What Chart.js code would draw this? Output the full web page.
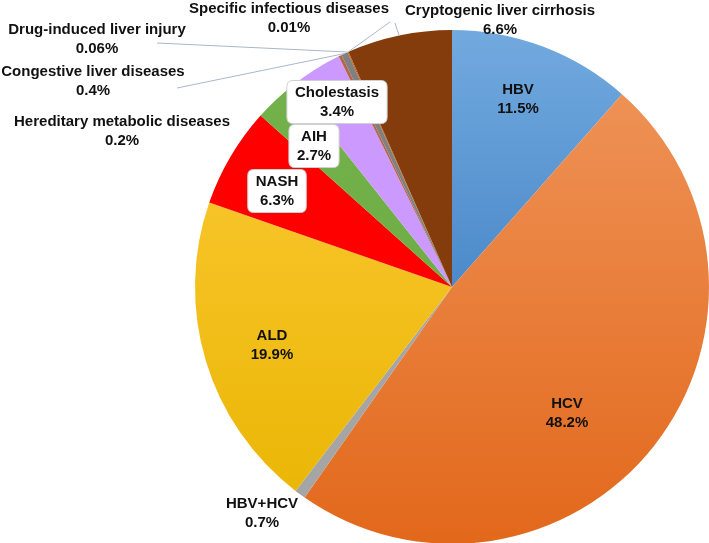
<!DOCTYPE html>
<html lang="en">
<head>
  <meta charset="UTF-8">
  <title>Liver cirrhosis etiology</title>
  <script src="https://cdn.jsdelivr.net/npm/chart.js"></script>
  <style>
    html, body {
      margin: 0;
      padding: 0;
      background: #ffffff;
      overflow: hidden;
    }

    #wrap {
      position: absolute;
      left: 0;
      top: 0;
      width: 720px;
      height: 560px;
    }
  </style>
</head>
<body>
  <div id="wrap">
    <canvas id="pie" width="720" height="560"></canvas>
  </div>

  <script>
    // categories in clockwise order starting at 12 o'clock
    const categories = [
      'HBV', 'HCV', 'HBV+HCV', 'ALD', 'NASH', 'AIH', 'Cholestasis',
      'Hereditary metabolic diseases', 'Congestive liver diseases',
      'Drug-induced liver injury', 'Specific infectious diseases',
      'Cryptogenic liver cirrhosis'
    ];
    const shares = [11.5, 48.2, 0.7, 19.9, 6.3, 2.7, 3.4, 0.2, 0.4, 0.06, 0.01, 6.6];

    // top / bottom colour of each slice's vertical gradient
    const topColors = ['#72aadf', '#f0975e', '#a5a5a5', '#ffcc3c', '#ff0000', '#74b24b',
                       '#cc99ff', '#b5654a', '#808080', '#c55a11', '#7f6000', '#843c0c'];
    const bottomColors = ['#2669b5', '#e2681b', '#a5a5a5', '#e8b400', '#ff0000', '#6aa843',
                          '#cc99ff', '#b5654a', '#808080', '#c55a11', '#7f6000', '#843c0c'];

    // where each label sits (text centre), optional leader start, optional box
    const labelSpots = [
      { x: 518, y: 99 },
      { x: 567, y: 413 },
      { x: 262, y: 513 },
      { x: 272, y: 345 },
      { x: 277, y: 191, box: true },
      { x: 314, y: 146, box: true },
      { x: 337, y: 102, box: true },
      { x: 122, y: 131 },
      { x: 93, y: 81, from: [177, 88] },
      { x: 97, y: 39, from: [157, 43] },
      { x: 289, y: 18, from: [390, 22] },
      { x: 500, y: 20, from: [395, 23] }
    ];

    const FONT = 'bold 15px "Liberation Sans", Arial, sans-serif';

    function sliceFill(context) {
      const i = context.dataIndex;
      const chart = context.chart;
      const area = chart.chartArea;
      if (!area || i === undefined) return topColors[i || 0];
      const g = chart.ctx.createLinearGradient(0, area.top, 0, area.bottom);
      g.addColorStop(0, topColors[i]);
      g.addColorStop(1, bottomColors[i]);
      return g;
    }

    function roundRect(ctx, x, y, w, h, r) {
      ctx.beginPath();
      ctx.moveTo(x + r, y);
      ctx.lineTo(x + w - r, y);
      ctx.quadraticCurveTo(x + w, y, x + w, y + r);
      ctx.lineTo(x + w, y + h - r);
      ctx.quadraticCurveTo(x + w, y + h, x + w - r, y + h);
      ctx.lineTo(x + r, y + h);
      ctx.quadraticCurveTo(x, y + h, x, y + h - r);
      ctx.lineTo(x, y + r);
      ctx.quadraticCurveTo(x, y, x + r, y);
      ctx.closePath();
    }

    const sliceLabels = {
      id: 'sliceLabels',
      afterDatasetsDraw(chart) {
        const ctx = chart.ctx;
        const arcs = chart.getDatasetMeta(0).data;
        ctx.save();

        // leader lines from the label to the slice rim
        ctx.strokeStyle = '#a9b7cb';
        ctx.lineWidth = 1;
        arcs.forEach((arc, i) => {
          const spot = labelSpots[i];
          if (!spot.from) return;
          const mid = (arc.startAngle + arc.endAngle) / 2;
          const ex = arc.x + Math.cos(mid) * arc.outerRadius;
          const ey = arc.y + Math.sin(mid) * arc.outerRadius;
          ctx.beginPath();
          ctx.moveTo(spot.from[0], spot.from[1]);
          ctx.lineTo(ex, ey);
          ctx.stroke();
        });

        ctx.font = FONT;
        ctx.textAlign = 'center';
        ctx.textBaseline = 'middle';
        arcs.forEach((arc, i) => {
          const spot = labelSpots[i];
          const line1 = categories[i];
          const line2 = shares[i] + '%';
          if (spot.box) {
            const w = Math.max(ctx.measureText(line1).width, ctx.measureText(line2).width) + 16;
            const h = 43;
            roundRect(ctx, spot.x - w / 2, spot.y - h / 2, w, h, 6);
            ctx.fillStyle = '#ffffff';
            ctx.fill();
            ctx.strokeStyle = '#d0d0d0';
            ctx.stroke();
          }
          ctx.fillStyle = '#111111';
          ctx.fillText(line1, spot.x, spot.y - 9.5);
          ctx.fillText(line2, spot.x, spot.y + 9.5);
        });
        ctx.restore();
      }
    };

    new Chart(document.getElementById('pie'), {
      type: 'pie',
      data: {
        labels: categories,
        datasets: [{
          data: shares,
          backgroundColor: sliceFill,
          borderWidth: 0,
          hoverOffset: 0
        }]
      },
      options: {
        responsive: false,
        animation: false,
        events: [],
        layout: {
          padding: { left: 195, right: 11, top: 30, bottom: 16 }
        },
        plugins: {
          legend: { display: false },
          tooltip: { enabled: false }
        }
      },
      plugins: [sliceLabels]
    });
  </script>
</body>
</html>
